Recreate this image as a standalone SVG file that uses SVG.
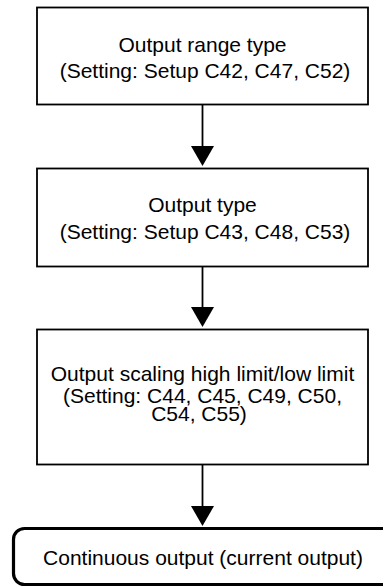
<svg xmlns="http://www.w3.org/2000/svg" width="383" height="588" viewBox="0 0 383 588">
<style>
.box{fill:#fff;stroke:#000;stroke-width:1.8}
.term{fill:#fff;stroke:#000;stroke-width:3.2}
.t{font-family:"Liberation Sans",Arial,Helvetica,sans-serif;font-size:21px;fill:#000;text-anchor:middle}
.c{stroke:#000;stroke-width:1.8;fill:none}
.h{fill:#000;stroke:none}
</style>
<rect width="383" height="588" fill="#fff"/>
<g id="connectors">
<line class="c" x1="202.5" y1="104" x2="202.5" y2="148"/>
<polygon class="h" points="191,146 214,146 202.5,166"/>
<line class="c" x1="202.5" y1="267" x2="202.5" y2="309"/>
<polygon class="h" points="191,307 214,307 202.5,327"/>
<line class="c" x1="202.5" y1="465" x2="202.5" y2="508"/>
<polygon class="h" points="191,506 214,506 202.5,526"/>
</g>
<g id="node1">
<rect class="box" x="37" y="7.5" width="331" height="97"/>
<text class="t" x="202.5" y="52">Output range type</text>
<text class="t" x="205" y="78">(Setting: Setup C42, C47, C52)</text>
</g>
<g id="node2">
<rect class="box" x="37" y="168.5" width="331" height="98"/>
<text class="t" x="202.5" y="212">Output type</text>
<text class="t" x="205" y="239">(Setting: Setup C43, C48, C53)</text>
</g>
<g id="node3">
<rect class="box" x="37" y="329.5" width="331" height="135"/>
<text class="t" x="202.5" y="381">Output scaling high limit/low limit</text>
<text class="t" x="202.5" y="403">(Setting: C44, C45, C49, C50,</text>
<text class="t" x="199" y="421">C54, C55)</text>
</g>
<g id="node4">
<rect class="term" x="13.5" y="528.5" width="390" height="56" rx="11" ry="11"/>
<text class="t" x="203" y="565">Continuous output (current output)</text>
</g>
</svg>
